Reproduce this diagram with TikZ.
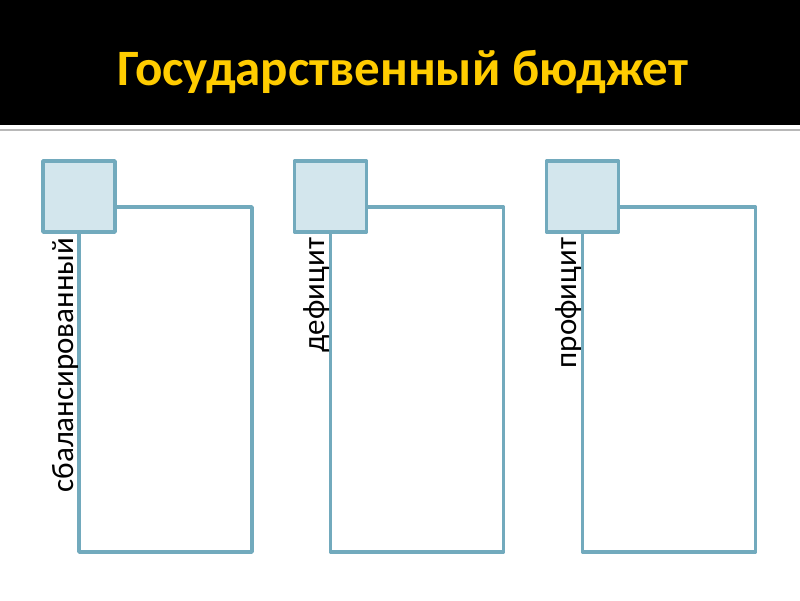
\documentclass[tikz,border=0pt]{standalone}
\usepackage{fontspec}
\setmainfont{Carlito}
\definecolor{title}{HTML}{FFCC00}
\definecolor{frame}{HTML}{72AABD}
\definecolor{tab}{HTML}{D3E6ED}
\definecolor{rule}{HTML}{B8B8B8}

\begin{document}
\begin{tikzpicture}[
  x=1pt, y=-1pt,
  line cap=round, line join=round,
  every node/.style={inner sep=0pt, outer sep=0pt},
  heading/.style={font=\fontsize{51}{57}\selectfont\bfseries, text=title, anchor=base},
  frame/.style={draw=frame, line width=3.5pt, fill=white, minimum width=173pt, minimum height=345pt, anchor=north west},
  tab/.style={draw=frame, line width=3.5pt, fill=tab, minimum width=72pt, minimum height=71pt, anchor=north west},
  label/.style={font=\fontsize{31}{36}\selectfont, rotate=90, anchor=base east},
]
\useasboundingbox (0,0) rectangle (800,600);
\fill[white] (0,0) rectangle (800,600);
\fill[black] (0,0) rectangle (800,125);
\draw[rule, line width=2pt] (0,130) -- (800,130);
\node[heading] (title) at (403,85) {Государственный бюджет};
\foreach \i/\dx/\txt in {1/0/сбалансированный, 2/251.5/дефицит, 3/503.5/профицит} {
  \node[frame] (frame\i) at (79+\dx,207) {};
  \node[tab] (tab\i) at (43+\dx,161) {};
  \node[label] (label\i) at (73+\dx,238) {\txt};
}
\end{tikzpicture}
\end{document}
